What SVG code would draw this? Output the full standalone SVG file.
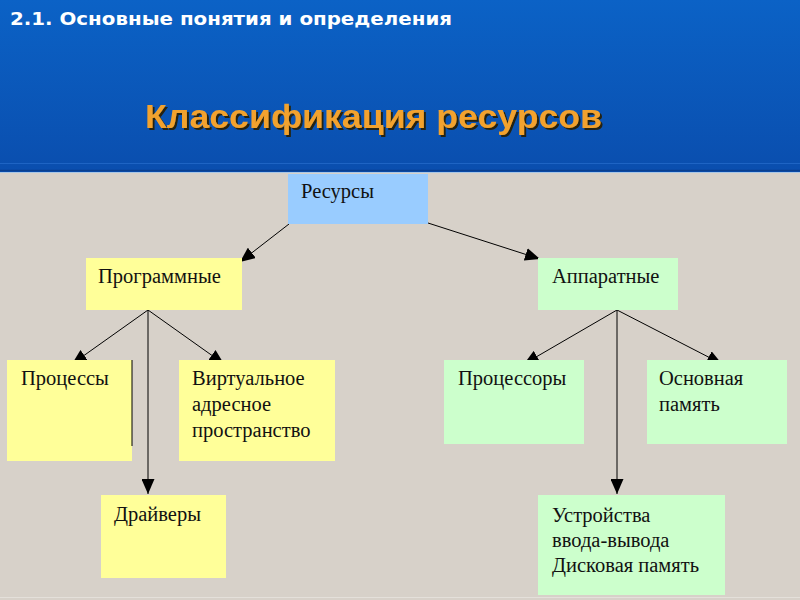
<svg xmlns="http://www.w3.org/2000/svg" width="800" height="600" viewBox="0 0 800 600">
  <defs>
    <linearGradient id="hdr" x1="0" y1="0" x2="0" y2="1">
      <stop offset="0" stop-color="#0b62c6"/>
      <stop offset="1" stop-color="#0a4eae"/>
    </linearGradient>
    <filter id="shadow" x="-5%" y="-20%" width="110%" height="150%">
      <feDropShadow dx="2" dy="2" stdDeviation="0.6" flood-color="#2a1a05" flood-opacity="0.9"/>
    </filter>
    <marker id="arr" viewBox="0 0 15 13" refX="15" refY="6.5" markerWidth="15" markerHeight="13" markerUnits="userSpaceOnUse" orient="auto">
      <path d="M0,0 L15,6.5 L0,13 Z" fill="#000"/>
    </marker>
    <style>
      .lbl { font-family: "Liberation Serif", "Times New Roman", serif; font-size: 20.5px; fill: #111; }
      .blue { fill: #99ccff; }
      .yel { fill: #ffff99; }
      .grn { fill: #ccffcc; }
      .con { stroke: #000; stroke-width: 1; fill: none; marker-end: url(#arr); }
    </style>
  </defs>

  <!-- background -->
  <rect x="0" y="0" width="800" height="600" fill="#d7d1c9"/>
  <rect x="0" y="0" width="800" height="173" fill="url(#hdr)"/>
  <line x1="0" y1="163.5" x2="800" y2="163.5" stroke="#1e64c4" stroke-width="1"/>
  <line x1="0" y1="170.5" x2="800" y2="170.5" stroke="#0a3f8e" stroke-width="1.5"/>
  <line x1="0" y1="172.5" x2="800" y2="172.5" stroke="#a9c7e6" stroke-width="1"/>
  <line x1="0" y1="597.5" x2="800" y2="597.5" stroke="#e4e0da" stroke-width="1"/>

  <!-- header texts -->
  <text x="10" y="25" font-family="DejaVu Sans, Verdana, sans-serif" font-weight="bold" font-size="18" fill="#ffffff" textLength="442" lengthAdjust="spacingAndGlyphs">2.1. Основные понятия и определения</text>
  <text x="145" y="128" font-family="Liberation Sans, Arial, sans-serif" font-weight="bold" font-size="34" fill="#f2a22e" filter="url(#shadow)" textLength="457" lengthAdjust="spacingAndGlyphs">Классификация ресурсов</text>

  <!-- connectors (drawn under boxes) -->
  <g id="connectors">
    <line class="con" x1="289" y1="224" x2="240" y2="262"/>
    <line class="con" x1="428" y1="223" x2="540" y2="259"/>
    <line class="con" x1="148" y1="310" x2="72" y2="364"/>
    <line class="con" x1="148" y1="310" x2="224" y2="364"/>
    <line class="con" x1="148" y1="310" x2="148" y2="494"/>
    <line class="con" x1="617" y1="310" x2="524" y2="364"/>
    <line class="con" x1="617" y1="310" x2="722" y2="364"/>
    <line class="con" x1="617" y1="310" x2="617" y2="494"/>
  </g>

  <g id="resources">
    <rect class="blue" x="288" y="174" width="140" height="50"/>
    <text class="lbl" x="301" y="198">Ресурсы</text>
  </g>
  <g id="software">
    <rect class="yel" x="86" y="258" width="156" height="52"/>
    <text class="lbl" x="98" y="283">Программные</text>
  </g>
  <g id="hardware">
    <rect class="grn" x="538" y="258" width="140" height="52"/>
    <text class="lbl" x="552" y="283">Аппаратные</text>
  </g>
  <g id="processes">
    <rect class="yel" x="7" y="360" width="125" height="101"/>
    <line x1="132" y1="360" x2="132" y2="446" stroke="#000" stroke-width="1"/>
    <text class="lbl" x="21" y="385">Процессы</text>
  </g>
  <g id="virtual">
    <rect class="yel" x="179" y="360" width="156" height="101"/>
    <text class="lbl" x="192" y="385">Виртуальное</text>
    <text class="lbl" x="192" y="411">адресное</text>
    <text class="lbl" x="192" y="437">пространство</text>
  </g>
  <g id="drivers">
    <rect class="yel" x="101" y="495" width="125" height="83"/>
    <text class="lbl" x="114" y="521">Драйверы</text>
  </g>
  <g id="cpus">
    <rect class="grn" x="444" y="360" width="140" height="84"/>
    <text class="lbl" x="458" y="385">Процессоры</text>
  </g>
  <g id="memory">
    <rect class="grn" x="647" y="360" width="140" height="84"/>
    <text class="lbl" x="659" y="385">Основная</text>
    <text class="lbl" x="659" y="411">память</text>
  </g>
  <g id="io">
    <rect class="grn" x="538" y="495" width="187" height="100"/>
    <text class="lbl" x="552" y="522">Устройства</text>
    <text class="lbl" x="552" y="547">ввода-вывода</text>
    <text class="lbl" x="552" y="572">Дисковая память</text>
  </g>
</svg>
